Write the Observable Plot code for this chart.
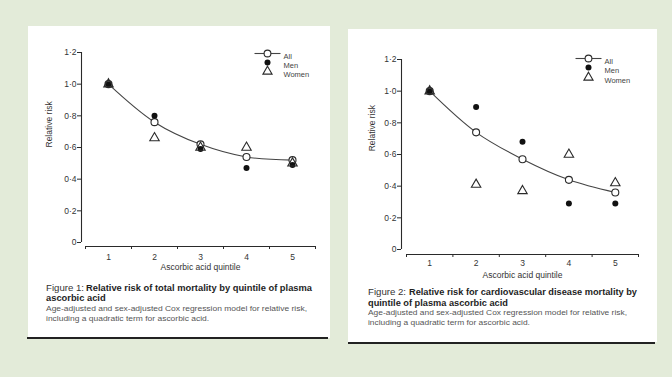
<!DOCTYPE html>
<html><head><meta charset="utf-8">
<script src="https://cdn.jsdelivr.net/npm/d3@7"></script>
<script src="https://cdn.jsdelivr.net/npm/@observablehq/plot@0.6"></script>
<style>
body{margin:0;background:#e3ebd9;}
#page{position:relative;width:672px;height:377px;overflow:hidden;background:#e3ebd9;font-family:"Liberation Sans",Arial,sans-serif;color:#333}
.panel{position:absolute;background:#fff}
.rule{position:absolute;height:1.6px;background:#222}
.chart{position:absolute}
#cap{position:absolute;left:0;top:0}
</style></head><body><div id="page"></div>
<script>
// ---- data ----
const quintiles = [1, 2, 3, 4, 5];
const fig1All   = [1.00, 0.76, 0.62, 0.54, 0.52];
const fig1Men   = [1.00, 0.80, 0.59, 0.47, 0.49];
const fig1Women = [1.00, 0.66, 0.60, 0.60, 0.50];
const fig2All   = [1.00, 0.74, 0.57, 0.44, 0.36];
const fig2Men   = [1.00, 0.90, 0.68, 0.29, 0.29];
const fig2Women = [1.00, 0.41, 0.37, 0.60, 0.42];
const yTicks = [0, 0.2, 0.4, 0.6, 0.8, 1.0, 1.2];
const xBounds = [0.5, 1.5, 2.5, 3.5, 4.5, 5.5];
const xLabel = "Ascorbic acid quintile";
const yLabel = "Relative risk";
const legendLabels = ["All", "Men", "Women"];
const captions = [
  {fig: "Figure 1:", title: ["Relative risk of total mortality by quintile of plasma", "ascorbic acid"],
   note: ["Age-adjusted and sex-adjusted Cox regression model for relative risk,", "including a quadratic term for ascorbic acid."]},
  {fig: "Figure 2:", title: ["Relative risk for cardiovascular disease mortality by", "quintile of plasma ascorbic acid"],
   note: ["Age-adjusted and sex-adjusted Cox regression model for relative risk,", "including a quadratic term for ascorbic acid."]}
];

const page = document.getElementById("page");
function div(cls, l, t, w, h) {
  const d = document.createElement("div");
  d.className = cls;
  Object.assign(d.style, {left: l + "px", top: t + "px", width: w + "px"});
  if (h != null) d.style.height = h + "px";
  page.appendChild(d);
  return d;
}
div("panel", 28, 26, 302, 312);
div("panel", 348, 29, 309, 313);
div("rule", 27, 337, 301);
div("rule", 348, 342, 307);

const fmt = d => d === 0 ? "0" : d3.format(".1f")(d).replace(".", "\u00b7");
const lineSym = {draw(ctx) { ctx.moveTo(-13, 0); ctx.lineTo(13, 0); }};
const ink = "#2a2a2a";

function panel(o) {
  const rows = quintiles.map((q, i) => ({q, all: o.all[i], men: o.men[i], women: o.women[i]}));
  const L = o.leg;
  return Plot.plot({
    width: o.width, height: o.height,
    marginLeft: o.ml, marginRight: o.mr, marginTop: o.mt, marginBottom: o.mb,
    style: {fontFamily: "Liberation Sans, Arial, sans-serif", fontSize: "8.5px", color: "#333", background: "transparent", overflow: "visible"},
    x: {domain: [0.5, 5.5]},
    y: {domain: [0, 1.2]},
    marks: [
      Plot.ruleX([0.5], {y1: 0, y2: 1.2, dx: -o.gap, stroke: ink, strokeWidth: 1.1}),
      Plot.ruleY([0], {x1: 0.5, x2: 5.5, dy: o.gap, stroke: ink, strokeWidth: 1.1}),
      Plot.axisY({ticks: yTicks, tickFormat: fmt, tickSize: 4, tickPadding: 1, dx: -o.gap, label: null, stroke: ink, strokeWidth: 1, fill: "#333", style: {letterSpacing: "1.3px"}, fontSize: 8.5}),
      Plot.axisX({ticks: xBounds, tickFormat: () => "", tickSize: 3, dy: o.gap, label: null, stroke: ink, strokeWidth: 1}),
      Plot.axisX({ticks: quintiles, tickFormat: d => String(d), tickSize: 0, tickPadding: o.xtp, label: null, fill: "#333", fontSize: 8.5}),
      Plot.text([xLabel], {x: () => 3, frameAnchor: "bottom", dy: o.xlDy, fontSize: 8.5, fill: "#333"}),
      Plot.text([yLabel], {y: () => o.ylY, frameAnchor: "left", dx: o.ylDx, rotate: -90, fontSize: 8.5, fill: "#333"}),
      Plot.line(rows, {x: "q", y: "all", stroke: "#444", strokeWidth: 1.1, curve: "catmull-rom"}),
      Plot.dot(rows, {x: "q", y: "all", r: 3.5, fill: "white", stroke: ink, strokeWidth: 1.1}),
      Plot.dot(rows, {x: "q", y: "men", r: 3, fill: "#111", stroke: "none"}),
      Plot.dot(rows, {x: "q", y: "women", r: 3.5, symbol: "triangle", fill: "none", stroke: ink, strokeWidth: 1.1}),
      // legend
      Plot.dot([0], {frameAnchor: "top-right", dx: L.dx, dy: L.dy[0], symbol: lineSym, stroke: "#444", fill: "none", strokeWidth: 1.1}),
      Plot.dot([0], {frameAnchor: "top-right", dx: L.dx, dy: L.dy[0], r: 3.4, fill: "white", stroke: ink, strokeWidth: 1.1}),
      Plot.dot([0], {frameAnchor: "top-right", dx: L.dx, dy: L.dy[1], r: 3, fill: "#111", stroke: "none"}),
      Plot.dot([0], {frameAnchor: "top-right", dx: L.dx, dy: L.dy[2], r: 3.4, symbol: "triangle", fill: "none", stroke: ink, strokeWidth: 1.1}),
      ...legendLabels.map((t, i) => Plot.text([t], {frameAnchor: "top-right", dx: L.tdx, dy: L.dy[i], textAnchor: "start", fontSize: 7.5, fill: "#444"}))
    ]
  });
}

const p1 = panel({all: fig1All, men: fig1Men, women: fig1Women,
  width: 304, height: 260, ml: 57, mr: 17, mt: 26, mb: 44, gap: 4, xtp: 11,
  xlDy: 27, ylY: 0.6, ylDx: -36, leg: {dx: -48, dy: [1, 10, 19], tdx: -32}});
p1.classList.add("chart"); p1.style.left = "28px"; p1.style.top = "26px";
page.appendChild(p1);

const p2 = panel({all: fig2All, men: fig2Men, women: fig2Women,
  width: 309, height: 260, ml: 58, mr: 19, mt: 29, mb: 41, gap: 5, xtp: 10,
  xlDy: 28, ylY: 0.62, ylDx: -34, leg: {dx: -50, dy: [-1, 8, 18], tdx: -34}});
p2.classList.add("chart"); p2.style.left = "348px"; p2.style.top = "30px";
page.appendChild(p2);

// ---- captions ----
const cap = d3.select(page).append("svg").attr("id", "cap").attr("width", 672).attr("height", 377)
  .style("font-family", "Liberation Sans, Arial, sans-serif");
const layout = [
  {x: 46, figEnd: 84, t1: [86, 312], n1End: 307, y: [290.5, 301, 310.5, 321]},
  {x: 368, figEnd: 406, t1: [409, 637], n1End: 627, y: [295, 305.5, 315, 325]}
];
function put(txt, x, y, size, weight, col) {
  return cap.append("text").attr("x", x).attr("y", y)
    .attr("font-size", size).attr("font-weight", weight).attr("fill", col).text(txt);
}
function fit(sel, w) {
  const nat = sel.node().getComputedTextLength();
  sel.attr("textLength", w).attr("lengthAdjust", "spacingAndGlyphs");
  return w / nat;
}
function scaleTo(sel, k) {
  const nat = sel.node().getComputedTextLength();
  sel.attr("textLength", nat * k).attr("lengthAdjust", "spacingAndGlyphs");
}
captions.forEach((c, i) => {
  const g = layout[i];
  fit(put(c.fig, g.x, g.y[0], 8.8, "normal", "#333"), g.figEnd - g.x);
  const t1 = put(c.title[0], g.t1[0], g.y[0], 8.8, "bold", "#1e1e1e");
  const k1 = fit(t1, g.t1[1] - g.t1[0]);
  scaleTo(put(c.title[1], g.x, g.y[1], 8.8, "bold", "#1e1e1e"), k1);
  const n1 = put(c.note[0], g.x, g.y[2], 7, "normal", "#555");
  const k2 = fit(n1, g.n1End - g.x);
  scaleTo(put(c.note[1], g.x, g.y[3], 7, "normal", "#555"), k2);
});
</script></body></html>
